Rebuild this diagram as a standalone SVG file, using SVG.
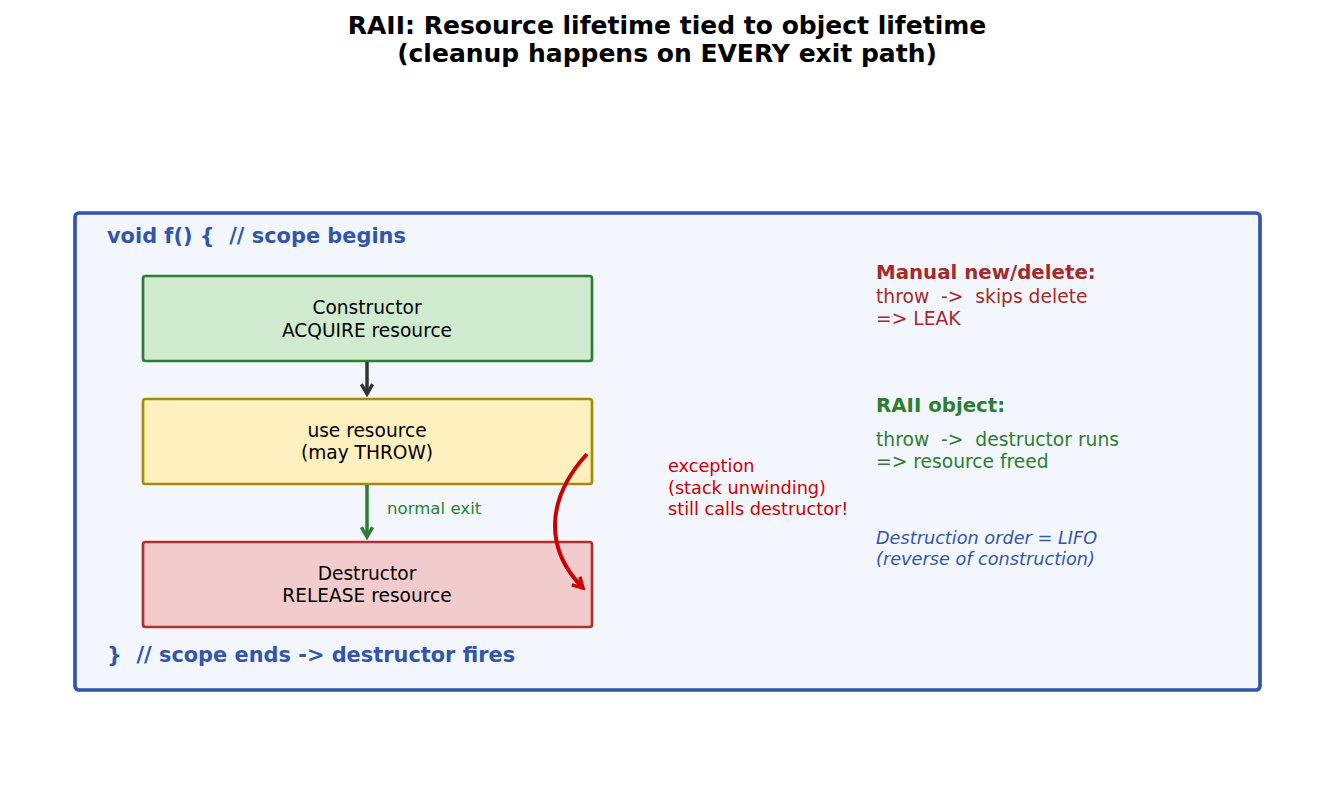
<svg xmlns="http://www.w3.org/2000/svg" width="1335" height="804" viewBox="0 0 1335 804">
<style>
text{font-family:"DejaVu Sans","Liberation Sans",sans-serif;white-space:pre}
.title{font-size:25px;font-weight:bold;fill:#000;text-anchor:middle}
.code{font-size:20.9px;font-weight:bold;fill:#3355aa}
.node{stroke-width:2.7}
.nt{font-size:18.6px;fill:#000;text-anchor:middle}
.exc{font-size:17.7px;fill:#cc0000}
.hd{font-size:19.8px;font-weight:bold}
.bd{font-size:18.7px}
.it{font-size:17.7px;font-style:italic;fill:#3355aa}
</style>
<defs>
<marker id="ad" viewBox="0 0 10 10" refX="8" refY="5" markerWidth="4" markerHeight="4" orient="auto"><path d="M1,1 L8,5 L1,9" fill="none" stroke="#333" stroke-width="2.4"/></marker>
<marker id="ag" viewBox="0 0 10 10" refX="8" refY="5" markerWidth="4" markerHeight="4" orient="auto"><path d="M1,1 L8,5 L1,9" fill="none" stroke="#2e7d32" stroke-width="2.4"/></marker>
<marker id="ar" viewBox="0 0 10 10" refX="8" refY="5" markerWidth="3.6" markerHeight="3.6" orient="auto"><path d="M1,1 L8,5 L1,9" fill="none" stroke="#cc0000" stroke-width="2.4"/></marker>
</defs>
<rect width="1335" height="804" fill="#fff"/>
<text class="title" x="667" y="34" xml:space="preserve">RAII: Resource lifetime tied to object lifetime</text>
<text class="title" x="667" y="62" xml:space="preserve">(cleanup happens on EVERY exit path)</text>
<g id="scope">
<rect x="75" y="213" width="1185" height="477" rx="4" fill="#f3f6fd" stroke="#3355aa" stroke-width="3.7"/>
<text class="code" x="107" y="243" xml:space="preserve">void f() {  // scope begins</text>
<text class="code" x="107" y="662" xml:space="preserve">}  // scope ends -&gt; destructor fires</text>
</g>
<g id="constructor">
<rect class="node" x="143" y="276" width="449" height="85" rx="2.5" fill="#d0ebd0" stroke="#2e7d32"/>
<text class="nt" x="367" y="314">Constructor</text>
<text class="nt" x="367" y="337">ACQUIRE resource</text>
</g>
<g id="use">
<rect class="node" x="143" y="399" width="449" height="85" rx="2.5" fill="#fff0c0" stroke="#a68a00"/>
<text class="nt" x="367" y="437">use resource</text>
<text class="nt" x="367" y="459">(may THROW)</text>
</g>
<g id="destructor">
<rect class="node" x="143" y="542" width="449" height="85" rx="2.5" fill="#f2cccc" stroke="#b03030"/>
<text class="nt" x="367" y="580">Destructor</text>
<text class="nt" x="367" y="602">RELEASE resource</text>
</g>
<g id="connectors" fill="none">
<line x1="367" y1="362" x2="367" y2="394" stroke="#333" stroke-width="3.5" marker-end="url(#ad)"/>
<line x1="367" y1="485" x2="367" y2="537" stroke="#2e7d32" stroke-width="3.5" marker-end="url(#ag)"/>
<path d="M587,454 C545,500 545,550 583,588" stroke="#cc0000" stroke-width="4" marker-end="url(#ar)"/>
<text x="387" y="514" font-size="16.6" fill="#2e7d32" stroke="none">normal exit</text>
</g>
<g id="exception-note">
<text class="exc" x="668" y="472">exception</text>
<text class="exc" x="668" y="494">(stack unwinding)</text>
<text class="exc" x="668" y="515">still calls destructor!</text>
</g>
<g id="manual-note">
<text class="hd" x="876" y="279" fill="#a52a2a">Manual new/delete:</text>
<text class="bd" x="876" y="303" fill="#a52a2a" xml:space="preserve">throw  -&gt;  skips delete</text>
<text class="bd" x="876" y="325" fill="#a52a2a">=&gt; LEAK</text>
</g>
<g id="raii-note">
<text class="hd" x="876" y="412" fill="#2e7d32">RAII object:</text>
<text class="bd" x="876" y="446" fill="#2e7d32" xml:space="preserve">throw  -&gt;  destructor runs</text>
<text class="bd" x="876" y="468" fill="#2e7d32">=&gt; resource freed</text>
</g>
<g id="order-note">
<text class="it" x="876" y="544">Destruction order = LIFO</text>
<text class="it" x="876" y="565">(reverse of construction)</text>
</g>
</svg>
